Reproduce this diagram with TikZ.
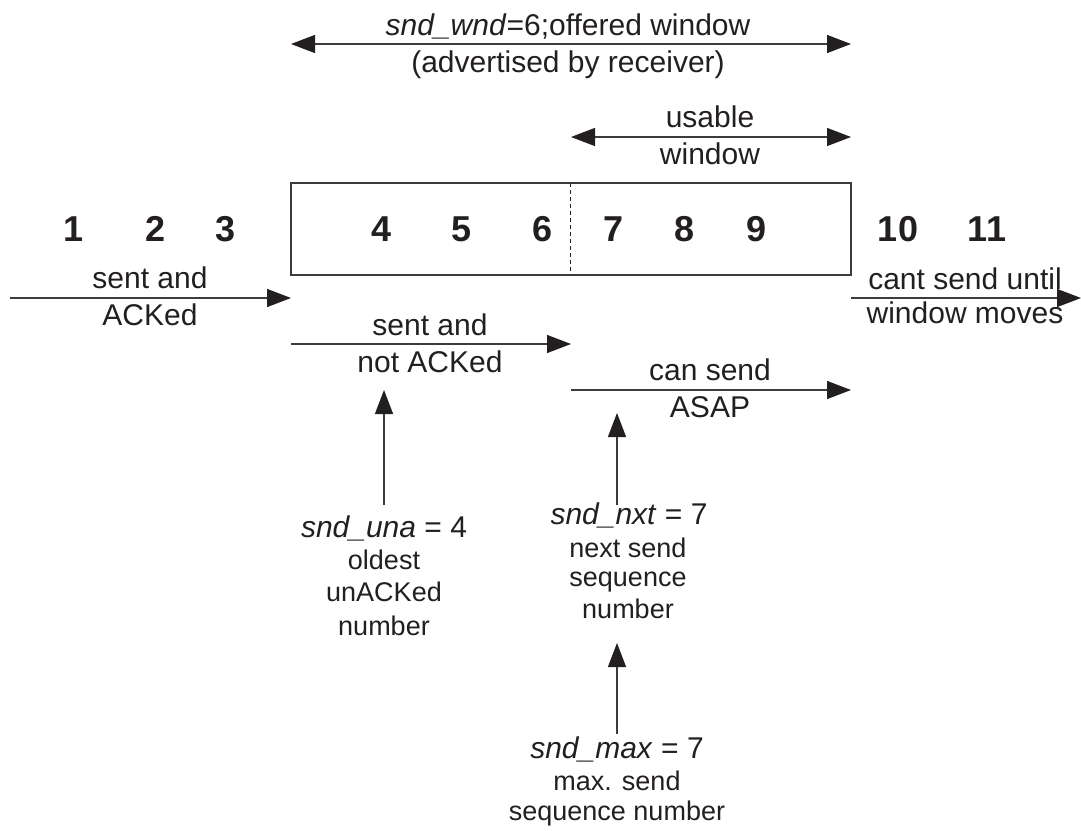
\documentclass[tikz,border=0pt]{standalone}
\usepackage{fontspec}
\setmainfont{Liberation Sans}
\usetikzlibrary{arrows.meta}
\definecolor{ink}{HTML}{231F20}
\definecolor{rule}{HTML}{3C3C3C}
\begin{document}
\begin{tikzpicture}[x=1pt,y=-1pt,
  lbl/.style={anchor=base, inner sep=0pt, font=\fontsize{30}{36}\selectfont, text=ink},
  small/.style={anchor=base, inner sep=0pt, font=\fontsize{27}{32}\selectfont, text=ink},
  num/.style={anchor=base, inner sep=0pt, font=\fontsize{36}{42}\selectfont\bfseries, text=ink},
  tip/.tip={Triangle[length=24pt,width=18pt,fill=ink,color=ink]},
  conn/.style={draw=rule, line width=1.3pt, -tip},
  span/.style={draw=rule, line width=1.3pt, tip-tip},
  frame/.style={draw=rule, line width=1.3pt, minimum width=560pt, minimum height=92pt, inner sep=0pt},
  split/.style={draw=ink, line width=0.9pt, dash pattern=on 4pt off 3pt},
]
\useasboundingbox (0,0) rectangle (1081,830);

% offered window
\coordinate (owL) at (291,44);
\coordinate (owR) at (851,44);
\draw[span] (owL) -- (owR);
\node[lbl] (owA) at (568,35) {\textit{snd\_wnd}=6;offered window};
\node[lbl] (owB) at (568,72) {(advertised by receiver)};

% usable window
\coordinate (uwL) at (571,137);
\coordinate (uwR) at (851,137);
\draw[span] (uwL) -- (uwR);
\node[lbl] (uwA) at (710,127) {usable};
\node[lbl] (uwB) at (710,164) {window};

% the window box with its split
\node[frame] (win) at (571,229) {};
\coordinate (spT) at (570,183);
\coordinate (spB) at (570,275);
\draw[split] (spT) -- (spB);

% sequence numbers
\node[num] (n1) at (74,241) {1};
\node[num] (n2) at (156,241) {2};
\node[num] (n3) at (226,241) {3};
\node[num] (n4) at (382,241) {4};
\node[num] (n5) at (462,241) {5};
\node[num] (n6) at (543,241) {6};
\node[num] (n7) at (614,241) {7};
\node[num] (n8) at (685,241) {8};
\node[num] (n9) at (756,241) {9};
\node[num] (n10) at (898,241) {10};
\node[num] (n11) at (987,241) {11};

% sent and ACKed
\coordinate (saL) at (10,298);
\coordinate (saR) at (291,298);
\draw[conn] (saL) -- (saR);
\node[lbl] (saA) at (150,288) {sent and};
\node[lbl] (saB) at (150,325) {ACKed};

% sent and not ACKed
\coordinate (snL) at (291,344);
\coordinate (snR) at (571,344);
\draw[conn] (snL) -- (snR);
\node[lbl] (snA) at (430,335) {sent and};
\node[lbl] (snB) at (430,372) {not ACKed};

% can send ASAP
\coordinate (csL) at (571,390);
\coordinate (csR) at (851,390);
\draw[conn] (csL) -- (csR);
\node[lbl] (csA) at (710,380) {can send};
\node[lbl] (csB) at (710,417) {ASAP};

% cant send until window moves
\coordinate (cnL) at (851,298);
\coordinate (cnR) at (1081,298);
\draw[conn] (cnL) -- (cnR);
\node[lbl] (cnA) at (965,289) {cant send until};
\node[lbl] (cnB) at (965,323) {window moves};

% snd_una pointer
\node[lbl] (una) at (384,537) {\textit{snd\_una} = 4};
\node[small] (unaA) at (384,569) {oldest};
\node[small] (unaB) at (384,601) {unACKed};
\node[small] (unaC) at (384,635) {number};
\coordinate (unaT) at (384,505);
\coordinate (unaH) at (384,390);
\draw[conn] (unaT) -- (unaH);

% snd_nxt pointer
\node[lbl] (nxt) at (629,524) {\textit{snd\_nxt} = 7};
\node[small] (nxtA) at (628,557) {next send};
\node[small] (nxtB) at (628,586) {sequence};
\node[small] (nxtC) at (628,618) {number};
\coordinate (nxtT) at (617,505);
\coordinate (nxtH) at (617,413);
\draw[conn] (nxtT) -- (nxtH);

% snd_max pointer
\node[lbl] (max) at (617,758) {\textit{snd\_max} = 7};
\node[small] (maxA) at (617,790) {max. send};
\node[small] (maxB) at (617,820) {sequence number};
\coordinate (maxT) at (617,734);
\coordinate (maxH) at (617,643);
\draw[conn] (maxT) -- (maxH);
\end{tikzpicture}
\end{document}
